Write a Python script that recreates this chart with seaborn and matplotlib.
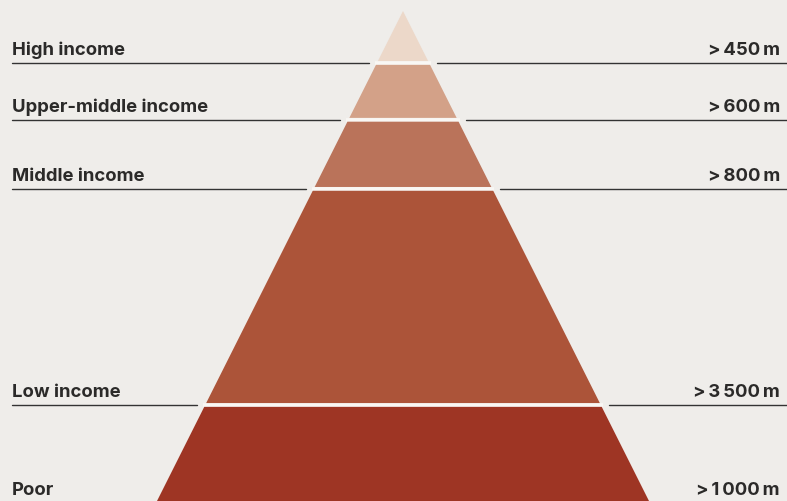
import matplotlib
matplotlib.use("Agg")
import matplotlib.pyplot as plt
import seaborn as sns
import pandas as pd

# ---- data ----
categories = ["High income", "Upper-middle income", "Middle income", "Low income", "Poor"]
value_labels = ["> 450 m", "> 600 m", "> 800 m", "> 3 500 m", "> 1 000 m"]
# tier boundaries as fraction of pyramid height measured from the apex
tier_bottoms = [0.106, 0.222, 0.363, 0.804, 1.0]
colors = ["#ecd8c9", "#d3a188", "#ba735a", "#ac5439", "#9e3524"]

BG = "#efedea"
TXT = "#2b2a29"

sns.set_theme(style="white")
plt.rcParams["font.family"] = ["Inter", "DejaVu Sans"]

fig = plt.figure(figsize=(7.87, 5.02), dpi=100, facecolor=BG)
ax = fig.add_axes([0, 0, 1, 1])
ax.set_facecolor(BG)
W, H = 787, 502
ax.set_xlim(0, W)
ax.set_ylim(H, 0)
ax.axis("off")

apex_x, apex_y, base_y, base_half = 403, 12, 502, 246
height = base_y - apex_y

def half_width(y):
    return base_half * (y - apex_y) / height

df = pd.DataFrame({"cat": categories, "val": value_labels,
                   "bottom": tier_bottoms, "color": colors})
tops = [0.0] + tier_bottoms[:-1]
gap = 1.9
for i, row in df.iterrows():
    yt = apex_y + tops[i] * height + (gap if i > 0 else 0)
    yb = apex_y + row["bottom"] * height - (gap if i < len(df) - 1 else 0)
    xs = [apex_x - half_width(yt), apex_x + half_width(yt),
          apex_x + half_width(yb), apex_x - half_width(yb)]
    ys = [yt, yt, yb, yb]
    ax.fill(xs, ys, color=row["color"], lw=0, zorder=2)
    if i < len(df) - 1:
        yl = apex_y + row["bottom"] * height
        hw = half_width(yl)
        ax.plot([apex_x - hw - 2, apex_x + hw + 2], [yl, yl], color="#f9f7f4",
                lw=3.6 * 0.72, zorder=1.5, solid_capstyle="butt")
        ax.plot([12, apex_x - hw - 8], [yl, yl], color="#333333", lw=1.0, zorder=3)
        ax.plot([apex_x + hw + 8, W], [yl, yl], color="#333333", lw=1.0, zorder=3)
        ty = yl - 9
    else:
        ty = 495
    ax.text(12, ty, row["cat"], ha="left", va="baseline", fontsize=13.3,
            fontweight="bold", color=TXT)
    ax.text(780, ty, row["val"].replace(" ", "\u2009"), ha="right", va="baseline",
            fontsize=13.3, fontweight="bold", color=TXT)

fig.savefig("out.png", dpi=100, facecolor=BG)
